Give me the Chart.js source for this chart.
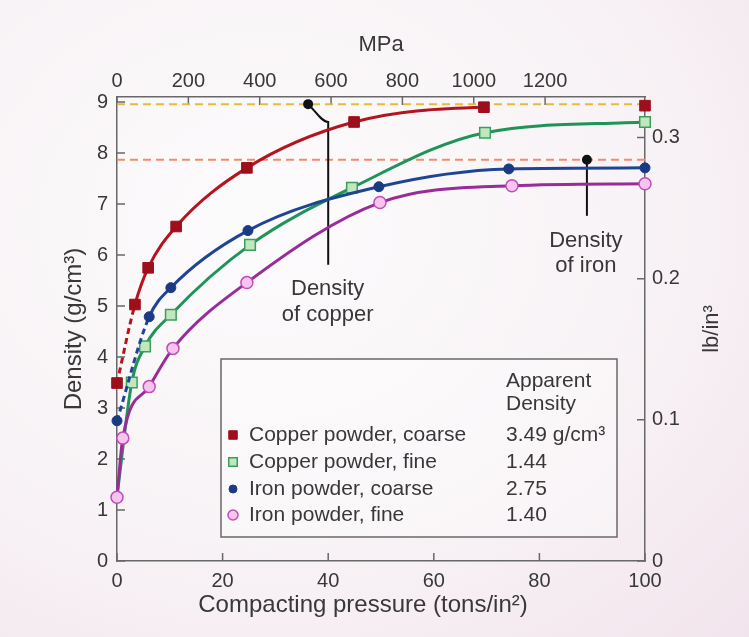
<!DOCTYPE html>
<html>
<head>
<meta charset="utf-8">
<script src="https://cdn.jsdelivr.net/npm/chart.js@4.4.1/dist/chart.umd.min.js"></script>
<style>
  html, body { margin: 0; padding: 0; }
  body {
    width: 749px; height: 637px; overflow: hidden;
    background: radial-gradient(ellipse at 35% 35%, #fcfbfc 0%, #f8f3f6 55%, #f2e4ec 100%);
  }
  #wrap { position: relative; width: 749px; height: 637px; }
</style>
</head>
<body>
<div id="wrap"><canvas id="chart"></canvas></div>
<script>
// pressure in tons/in^2, density in g/cm^3
const X_CU_COARSE = [0, 3.4, 5.9, 11.2, 24.6, 44.9, 69.5, 100];
const Y_CU_COARSE = [3.49, 5.03, 5.75, 6.56, 7.71, 8.61, 8.90, 8.93];
const X_CU_FINE = [0, 2.8, 5.3, 10.2, 25.2, 44.5, 69.7, 100];
const Y_CU_FINE = [1.27, 3.50, 4.21, 4.83, 6.20, 7.32, 8.40, 8.61];
const X_FE_COARSE = [0, 6.1, 10.2, 24.8, 49.6, 74.2, 100];
const Y_FE_COARSE = [2.75, 4.79, 5.36, 6.48, 7.34, 7.69, 7.71];
const X_FE_FINE = [0, 1.1, 6.1, 10.6, 24.6, 49.8, 74.8, 100];
const Y_FE_FINE = [1.25, 2.41, 3.42, 4.17, 5.46, 7.03, 7.36, 7.40];

const SERIES_NAMES = ['Copper powder, coarse', 'Copper powder, fine', 'Iron powder, coarse', 'Iron powder, fine'];
const APPARENT = ['3.49 g/cm³', '1.44', '2.75', '1.40'];

const CU_DENSITY = 8.96;
const FE_DENSITY = 7.87;
// pointer lines for the two density labels
const CU_POINTER_X = [36.2, 40.0, 40.0];
const CU_POINTER_Y = [8.96, 8.61, 5.81];
const FE_POINTER_X = [89.0, 89.0];
const FE_POINTER_Y = [7.87, 6.77];

const X_TICKS = [0, 20, 40, 60, 80, 100];
const Y_TICKS = [0, 1, 2, 3, 4, 5, 6, 7, 8, 9];
const MPA_TICKS = [0, 200, 400, 600, 800, 1000, 1200];
const LB_TICKS = [0, 0.1, 0.2, 0.3];

const Y_MAX = 9.1;
const MPA_MAX = 1480;
const LB_PER_GCC = 0.036127;

const AXIS = '#686868';
const TEXT = '#383838';
const FONT = 'Liberation Sans, Arial, Helvetica, sans-serif';

const pts = (xs, ys) => xs.map((x, i) => ({ x, y: ys[i] }));
const dashFirst = [6, 4];

const datasets = [
  {
    label: SERIES_NAMES[0], data: pts(X_CU_COARSE, Y_CU_COARSE), order: 3,
    borderColor: '#b5131e', borderWidth: 3,
    pointStyle: 'rect', pointRadius: 7.5, pointBackgroundColor: '#9e0f1b', pointBorderColor: '#9e0f1b', pointBorderWidth: 1,
    segment: {
      borderDash: c => c.p0DataIndex === 0 ? dashFirst : undefined,
      borderColor: c => c.p1DataIndex === X_CU_COARSE.length - 1 ? 'rgba(0,0,0,0)' : undefined
    }
  },
  {
    label: SERIES_NAMES[1], data: pts(X_CU_FINE, Y_CU_FINE), order: 2,
    borderColor: '#1f9458', borderWidth: 3,
    pointStyle: 'rect', pointRadius: c => c.dataIndex === 0 ? 0 : 7.5,
    pointBackgroundColor: '#bfe8bf', pointBorderColor: '#3c9e5e', pointBorderWidth: 1.5
  },
  {
    label: SERIES_NAMES[2], data: pts(X_FE_COARSE, Y_FE_COARSE), order: 1,
    borderColor: '#1e4594', borderWidth: 3,
    pointStyle: 'circle', pointRadius: 5, pointBackgroundColor: '#1a3a84', pointBorderColor: '#1a3a84', pointBorderWidth: 1,
    segment: { borderDash: c => c.p0DataIndex === 0 ? dashFirst : undefined }
  },
  {
    label: SERIES_NAMES[3], data: pts(X_FE_FINE, Y_FE_FINE), order: 0,
    borderColor: '#982c98', borderWidth: 3,
    pointStyle: 'circle', pointRadius: 6, pointBackgroundColor: '#f6c4ee', pointBorderColor: '#c24cb8', pointBorderWidth: 1.5
  },
  {
    label: 'cu ref', data: pts([0, 100], [CU_DENSITY, CU_DENSITY]), order: 10,
    borderColor: '#e6bb3c', borderWidth: 2, borderDash: [8, 5], pointRadius: 0
  },
  {
    label: 'fe ref', data: pts([0, 100], [FE_DENSITY, FE_DENSITY]), order: 10,
    borderColor: '#f28c6e', borderWidth: 2, borderDash: [8, 5], pointRadius: 0
  },
  {
    label: 'cu pointer', data: pts(CU_POINTER_X, CU_POINTER_Y), order: 5,
    borderColor: '#111', borderWidth: 2, tension: 0,
    pointRadius: [4, 0, 0], pointBackgroundColor: '#111', pointBorderColor: '#111'
  },
  {
    label: 'fe pointer', data: pts(FE_POINTER_X, FE_POINTER_Y), order: 5,
    borderColor: '#111', borderWidth: 2, tension: 0,
    pointRadius: [4, 0], pointBackgroundColor: '#111', pointBorderColor: '#111'
  }
].map(d => ({ ...d, clip: false }));

// tick marks drawn on the inside of the frame
const innerTicks = {
  id: 'innerTicks',
  beforeDatasetsDraw(chart) {
    const { ctx, chartArea: a, scales } = chart;
    const len = 8;
    ctx.save();
    ctx.strokeStyle = AXIS;
    ctx.lineWidth = 1.5;
    ctx.beginPath();
    scales.x.ticks.forEach(t => { const p = scales.x.getPixelForValue(t.value); ctx.moveTo(p, a.bottom); ctx.lineTo(p, a.bottom - len); });
    scales.x2.ticks.forEach(t => { const p = scales.x2.getPixelForValue(t.value); ctx.moveTo(p, a.top); ctx.lineTo(p, a.top + len); });
    scales.y.ticks.forEach(t => { const p = scales.y.getPixelForValue(t.value); ctx.moveTo(a.left, p); ctx.lineTo(a.left + len, p); });
    scales.y2.ticks.forEach(t => { const p = scales.y2.getPixelForValue(t.value); ctx.moveTo(a.right, p); ctx.lineTo(a.right - len, p); });
    ctx.stroke();
    ctx.restore();
  }
};

const annotations = {
  id: 'annotations',
  afterDraw(chart) {
    const { ctx, chartArea: a, scales: { x, y } } = chart;
    ctx.save();
    ctx.fillStyle = TEXT;
    ctx.textAlign = 'center';
    ctx.textBaseline = 'middle';
    ctx.font = '22px ' + FONT;
    ctx.fillText('Density', x.getPixelForValue(39.9), y.getPixelForValue(5.34));
    ctx.fillText('of copper', x.getPixelForValue(39.9), y.getPixelForValue(4.83));
    ctx.fillText('Density', x.getPixelForValue(88.8), y.getPixelForValue(6.28));
    ctx.fillText('of iron', x.getPixelForValue(88.8), y.getPixelForValue(5.79));

    // bottom axis title sits a little left of the plot centre
    ctx.font = '24px ' + FONT;
    ctx.fillText('Compacting pressure (tons/in²)', a.left + 246, a.bottom + 44);

    // right axis title, reading bottom to top
    ctx.translate(712, (a.top + a.bottom) / 2);
    ctx.rotate(-Math.PI / 2);
    ctx.font = '22px ' + FONT;
    ctx.fillText('lb/in³', 0, 0);
    ctx.restore();

    // legend table
    const bx = a.left + 104, by = a.top + 262, bw = 396, bh = 178;
    ctx.save();
    ctx.fillStyle = 'rgba(255,255,255,0.35)';
    ctx.fillRect(bx, by, bw, bh);
    ctx.strokeStyle = AXIS;
    ctx.lineWidth = 1.5;
    ctx.strokeRect(bx, by, bw, bh);
    ctx.fillStyle = TEXT;
    ctx.textBaseline = 'middle';
    ctx.textAlign = 'left';
    ctx.font = '21px ' + FONT;
    ctx.fillText('Apparent', bx + 285, by + 22);
    ctx.fillText('Density', bx + 285, by + 45);
    const rowY = [76, 103, 130, 156];
    const markR = [6, 6, 4, 5];
    SERIES_NAMES.forEach((name, i) => {
      const ds = chart.data.datasets[i];
      const ry = by + rowY[i];
      ctx.fillStyle = ds.pointBackgroundColor;
      ctx.strokeStyle = ds.pointBorderColor;
      ctx.lineWidth = ds.pointBorderWidth;
      Chart.helpers.drawPoint(ctx, { pointStyle: ds.pointStyle, radius: markR[i], borderWidth: ds.pointBorderWidth, rotation: 0 }, bx + 12, ry);
      ctx.fillStyle = TEXT;
      ctx.fillText(name, bx + 28, ry);
      ctx.fillText(APPARENT[i], bx + 285, ry);
    });
    ctx.restore();
  }
};

const tickFont = { family: FONT, size: 20 };
const titleFont = { family: FONT, size: 24 };

new Chart(document.getElementById('chart'), {
  type: 'scatter',
  data: { datasets },
  options: {
    responsive: true,
    maintainAspectRatio: false,
    animation: false,
    devicePixelRatio: 1,
    layout: { padding: 0 },
    showLine: true,
    elements: { line: { tension: 0.4, cubicInterpolationMode: 'monotone' } },
    plugins: { legend: { display: false }, tooltip: { enabled: false } },
    scales: {
      x: {
        type: 'linear', position: 'bottom', min: 0, max: 100,
        grid: { display: false, drawTicks: false },
        border: { color: AXIS, width: 1.5 },
        ticks: { padding: 8, font: tickFont, color: TEXT, callback: v => String(v) },
        afterBuildTicks: s => { s.ticks = X_TICKS.map(v => ({ value: v })); },
        afterFit: s => { s.height = 76; }
      },
      x2: {
        type: 'linear', position: 'top', min: 0, max: MPA_MAX,
        grid: { display: false, drawTicks: false },
        border: { color: AXIS, width: 1.5 },
        ticks: { padding: 4, font: tickFont, color: TEXT, callback: v => String(v) },
        title: { display: true, text: 'MPa', font: { family: FONT, size: 22 }, color: TEXT, padding: { top: 32, bottom: 0 } },
        afterBuildTicks: s => { s.ticks = MPA_TICKS.map(v => ({ value: v })); },
        afterFit: s => { s.height = 97; }
      },
      y: {
        type: 'linear', position: 'left', min: 0, max: Y_MAX,
        grid: { display: false, drawTicks: false },
        border: { color: AXIS, width: 1.5 },
        ticks: { padding: 9, font: tickFont, color: TEXT, callback: v => String(v) },
        title: { display: true, text: 'Density (g/cm³)', font: titleFont, color: TEXT, padding: { top: 60, bottom: 0 } },
        afterBuildTicks: s => { s.ticks = Y_TICKS.map(v => ({ value: v })); },
        afterFit: s => { s.width = 117; }
      },
      y2: {
        type: 'linear', position: 'right', min: 0, max: Y_MAX * LB_PER_GCC,
        grid: { display: false, drawTicks: false },
        border: { color: AXIS, width: 1.5 },
        ticks: { padding: 7, font: tickFont, color: TEXT, callback: v => String(v) },
        afterBuildTicks: s => { s.ticks = LB_TICKS.map(v => ({ value: v })); },
        afterFit: s => { s.width = 104; }
      }
    }
  },
  plugins: [innerTicks, annotations]
});
</script>
</body>
</html>
